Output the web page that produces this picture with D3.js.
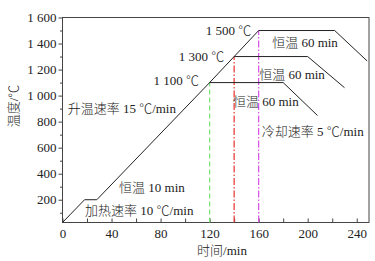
<!DOCTYPE html>
<html><head><meta charset="utf-8">
<script src="https://cdn.jsdelivr.net/npm/d3@7"></script>
<style>
html,body{margin:0;padding:0;background:#fff;}
svg text{font-family:"Liberation Serif","Noto Sans CJK SC",serif;fill:#222;font-weight:300;}
</style></head>
<body><svg id="c" width="375" height="261"></svg>
<script>
// data
const heatingPath = [[0,25],[18,200],[28,200],[120,1100],[140,1300],[160,1500]];
const hold1100 = [[120,1100],[180,1100],[208,847]];
const hold1300 = [[140,1300],[200,1300],[230,1061]];
const hold1500 = [[160,1500],[222,1500],[248.5,1266]];
const markerTimes = [120,140,160];
const markerTemps = [1100,1300,1500];
const markerColors = ["#77e577","#e8302f","#d84fe6"];
const xTickValues = [0,40,80,120,160,200,240];
const yTickValues = [200,400,600,800,1000,1200,1400,1600];
const yTickLabels = ["200","400","600","800","1 000","1 200","1 400","1 600"];
const annotations = [
  {t:153.9, T:1465, text:"1 500 ℃", anchor:"end"},
  {t:131.9, T:1269, text:"1 300 ℃", anchor:"end"},
  {t:111.4, T:1078, text:"1 100 ℃", anchor:"end"},
  {t:4.2, T:870, text:"升温速率 15 ℃/min", anchor:"start"},
  {t:46.1, T:263, text:"恒温 10 min", anchor:"start"},
  {t:18.4, T:83, text:"加热速率 10 ℃/min", anchor:"start"},
  {t:171, T:1370, text:"恒温 60 min", anchor:"start"},
  {t:160.4, T:1124, text:"恒温 60 min", anchor:"start"},
  {t:139, T:920, text:"恒温 60 min", anchor:"start"},
  {t:162.6, T:693, text:"冷却速率 5 ℃/min", anchor:"start"}
];

const svg = d3.select("#c");
const L=62.5, R=369, T=17.5, B=222.5;
const x = d3.scaleLinear().domain([0,250]).range([L,R]);
const y = d3.scaleLinear().domain([25,1600]).range([B,T]);

// frame
svg.append("rect").attr("x",L).attr("y",T).attr("width",R-L).attr("height",B-T)
  .attr("fill","none").attr("stroke","#444").attr("stroke-width",1);

// x axis ticks inward
const xa = svg.append("g").attr("transform",`translate(0,${B})`)
  .call(d3.axisBottom(x).tickValues(d3.range(0,250,20)).tickSize(-4).tickFormat(d=> xTickValues.includes(d)? d : "").tickPadding(6));
xa.select(".domain").remove();
xa.selectAll("line").attr("stroke","#444");
xa.selectAll("text").attr("font-size",13);

// y axis minor
const ya2 = svg.append("g").attr("transform",`translate(${L},0)`)
  .call(d3.axisLeft(y).tickValues(d3.range(100,1600,200)).tickSize(2.5).tickFormat(""));
ya2.select(".domain").remove();
ya2.selectAll("line").attr("stroke","#444");
const ya = svg.append("g").attr("transform",`translate(${L},0)`)
  .call(d3.axisLeft(y).tickValues(yTickValues).tickSize(4).tickPadding(2)
  .tickFormat((d,i)=>yTickLabels[i]));
ya.select(".domain").remove();
ya.selectAll("line").attr("stroke","#444");
ya.selectAll("text").attr("font-size",13);

// axis titles
svg.append("text").attr("x",222).attr("y",255).attr("text-anchor","middle")
  .attr("font-size",13).text("时间/min");
svg.append("text").attr("transform","translate(18,106) rotate(-90)").attr("text-anchor","middle")
  .attr("font-size",13).text("温度/℃");

// marker lines
const dashes = ["5,3","7,2,1.5,2","7,2,1.5,2"];
markerTimes.forEach((t,i)=>{
  svg.append("line").attr("x1",x(t)).attr("x2",x(t)).attr("y1",y(25)).attr("y2",y(markerTemps[i]))
    .attr("stroke",markerColors[i]).attr("stroke-width",1.2).attr("stroke-dasharray",dashes[i]);
});

const line = d3.line().x(d=>x(d[0])).y(d=>y(d[1]));
[heatingPath,hold1100,hold1300,hold1500].forEach(p=>{
  svg.append("path").attr("d",line(p)).attr("fill","none").attr("stroke","#222").attr("stroke-width",1);
});

annotations.forEach(a=>{
  svg.append("text").attr("x",x(a.t)).attr("y",y(a.T)).attr("text-anchor",a.anchor)
    .attr("font-size",13).text(a.text);
});
</script></body></html>
